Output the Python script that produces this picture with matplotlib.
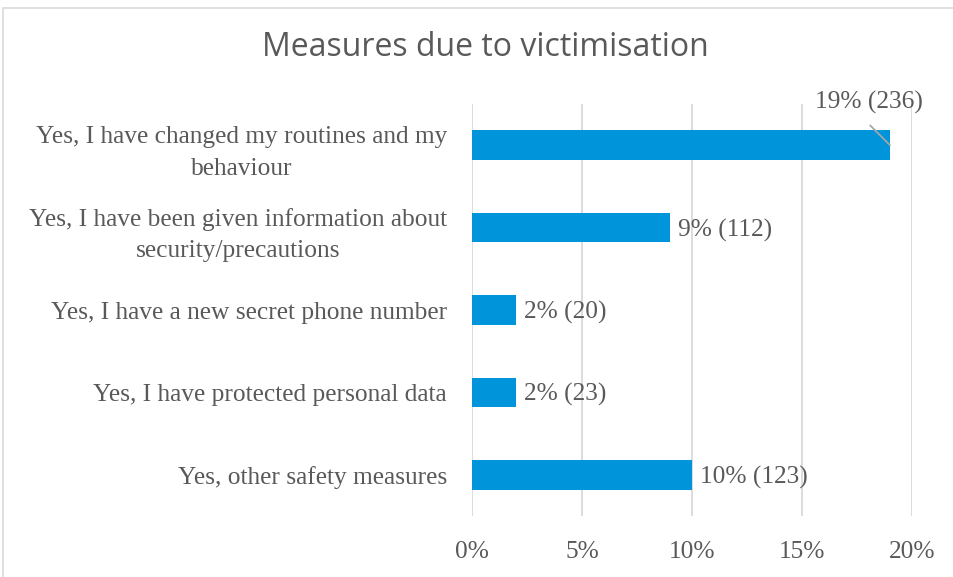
"""
Horizontal bar chart of measures taken due to victimisation.
"""

import matplotlib.pyplot as plt
import matplotlib.transforms as mtransforms
from matplotlib.patches import Rectangle
from matplotlib.ticker import PercentFormatter

# Chart data
categories = [
    "Yes, I have changed my routines and my\nbehaviour",
    "Yes, I have been given information about\nsecurity/precautions",
    "Yes, I have a new secret phone number",
    "Yes, I have protected personal data",
    "Yes, other safety measures",
]
shares = [19, 9, 2, 2, 10]
counts = [236, 112, 20, 23, 123]
x_ticks = [0, 5, 10, 15, 20]

TEXT = "#595959"
BAR = "#0095DA"
SERIF = ["Liberation Serif", "DejaVu Serif"]
FS = 18.3


def main():
    """Entry point of the script."""

    fig = plt.figure(figsize=(9.54, 5.77), dpi=100)
    ax = fig.add_axes([472 / 954, 1 - 516 / 577, 440 / 954, 412 / 577])

    # Chart border like the spreadsheet frame
    fig.patches.append(Rectangle((3 / 954, -0.01), 1.0, 1 - 8 / 577 + 0.01,
                                 transform=fig.transFigure, fill=False,
                                 edgecolor="#d9d9d9", linewidth=1.2))

    y = list(range(len(categories)))
    ax.barh(y, shares, height=0.36, color=BAR, zorder=3)
    ax.set_ylim(len(categories) - 0.5, -0.5)
    ax.set_xlim(0, 20)

    ax.set_xticks(x_ticks)
    ax.xaxis.set_major_formatter(PercentFormatter(decimals=0))
    ax.set_yticks(y)
    ax.set_yticklabels(categories, linespacing=1.58)
    for lab in ax.get_xticklabels() + ax.get_yticklabels():
        lab.set_family(SERIF)
        lab.set_fontsize(FS)
        lab.set_color(TEXT)
    # nudge the category labels up a few pixels
    shift = mtransforms.ScaledTranslation(0, 0.04, fig.dpi_scale_trans)
    for lab in ax.get_yticklabels():
        lab.set_horizontalalignment("right")
        lab.set_multialignment("center")
        lab.set_transform(lab.get_transform() + shift)
    ax.tick_params(length=0, pad=18)
    ax.tick_params(axis="x", pad=18)

    ax.grid(axis="x", color="#d9d9d9", linewidth=1.3, zorder=0)
    for side in ax.spines.values():
        side.set_visible(False)

    # Value labels
    for i, (s, c) in enumerate(zip(shares, counts)):
        text = f"{s}% ({c})"
        if i == 0:
            ax.text(s - 0.95, i - 0.52, text, ha="center", va="center",
                    family=SERIF, fontsize=FS, color=TEXT)
            ax.annotate("", xy=(s, i), xytext=(s - 0.9, i - 0.24),
                        arrowprops=dict(arrowstyle="-", color="#a6a6a6",
                                        linewidth=1.3, shrinkA=0, shrinkB=0),
                        zorder=4)
        else:
            ax.text(s + 0.35, i + 0.03, text, ha="left", va="center",
                    family=SERIF, fontsize=FS, color=TEXT)

    fig.text(485 / 954, 1 - 48 / 577, "Measures due to victimisation",
             ha="center", va="center", fontsize=23, color=TEXT,
             family=["Open Sans", "DejaVu Sans"])

    fig.savefig("out.png", dpi=100)


if __name__ == "__main__":
    main()
